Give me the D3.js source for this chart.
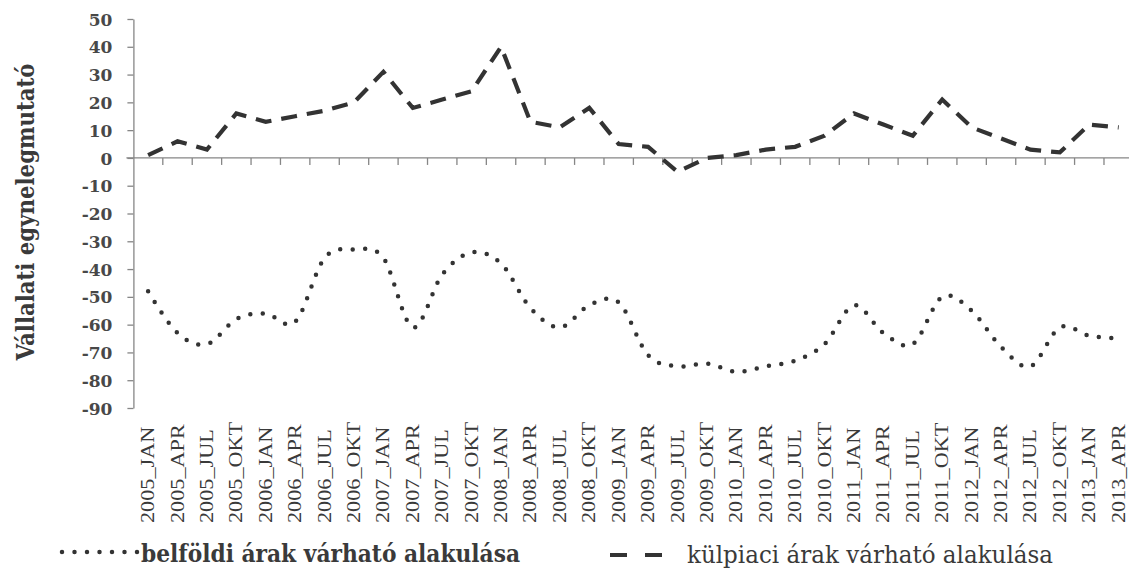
<!DOCTYPE html>
<html>
<head>
<meta charset="utf-8">
<script src="https://cdn.jsdelivr.net/npm/d3@7"></script>
<style>
  html, body { margin: 0; padding: 0; background: #fff; }
  svg { display: block; }
</style>
</head>
<body>
<svg id="chart" width="1129" height="576"></svg>
<script>
// Quarterly survey periods
const categories = [
  "2005_JAN","2005_APR","2005_JUL","2005_OKT",
  "2006_JAN","2006_APR","2006_JUL","2006_OKT",
  "2007_JAN","2007_APR","2007_JUL","2007_OKT",
  "2008_JAN","2008_APR","2008_JUL","2008_OKT",
  "2009_JAN","2009_APR","2009_JUL","2009_OKT",
  "2010_JAN","2010_APR","2010_JUL","2010_OKT",
  "2011_JAN","2011_APR","2011_JUL","2011_OKT",
  "2012_JAN","2012_APR","2012_JUL","2012_OKT",
  "2013_JAN","2013_APR"
];

// Expected domestic price developments (balance indicator)
const belfoldi = [
  -48, -63, -67, -58, -56, -59, -36, -33, -36, -61, -42, -34,
  -38, -54, -61, -53, -52, -71, -75, -74, -77, -75, -73, -67,
  -53, -63, -67, -50, -55, -68, -75, -61, -64, -65
];

// Expected foreign-market price developments (balance indicator)
const kulpiaci = [
  1, 6, 3, 16, 13, 15, 17, 20, 31, 18, 21, 24,
  40, 13, 11, 18, 5, 4, -5, 0, 1, 3, 4, 8,
  16, 12, 8, 21, 11, 7, 3, 2, 12, 11
];

const yTicks = [50, 40, 30, 20, 10, 0, -10, -20, -30, -40, -50, -60, -70, -80, -90];

const seriesNames = ["belföldi árak várható alakulása", "külpiaci árak várható alakulása"];
const yTitle = "Vállalati egynelegmutató";

const svg = d3.select("#chart");
const axisColor = "#868686";
const inkColor = "#333333";
const textColor = "#3a3a3a";

const plot = { left: 133.4, right: 1133.4, top: 19, bottom: 408 };

const x = d3.scaleBand().domain(categories).range([plot.left, plot.right]).padding(0);
const y = d3.scaleLinear().domain([-90, 50]).range([plot.bottom, plot.top]);
const cx = c => x(c) + x.bandwidth() / 2;

// Stretch a text element along its own direction to a given length
function fitLength(sel, len) {
  sel.attr("textLength", len).attr("lengthAdjust", "spacingAndGlyphs");
}

// Y axis
const yAxis = svg.append("g")
  .attr("transform", `translate(${plot.left},0)`)
  .call(d3.axisLeft(y).tickValues(yTicks).tickSize(6).tickSizeOuter(0).tickPadding(15)
    .tickFormat(d => String(d)));
yAxis.select(".domain").attr("stroke", axisColor).attr("stroke-width", 1.3);
yAxis.selectAll(".tick line").attr("stroke", axisColor).attr("stroke-width", 1.3);
yAxis.selectAll(".tick text")
  .attr("fill", "#484848")
  .attr("dy", "0.36em")
  .style("font-family", "'DejaVu Serif', serif")
  .style("font-weight", "bold")
  .style("font-size", "17px");

// Horizontal axis along zero
const x0 = y(0);
const xAxis = svg.append("g");
xAxis.append("line")
  .attr("x1", plot.left - 7).attr("x2", plot.right)
  .attr("y1", x0).attr("y2", x0)
  .attr("stroke", axisColor).attr("stroke-width", 1.3);
const bounds = categories.map(c => x(c)).concat([x(categories[categories.length - 1]) + x.bandwidth()]).slice(1);
xAxis.selectAll("line.tick")
  .data(bounds)
  .join("line")
  .attr("class", "tick")
  .attr("x1", d => d).attr("x2", d => d)
  .attr("y1", x0).attr("y2", x0 + 7)
  .attr("stroke", axisColor).attr("stroke-width", 1.3);

// Category labels, rotated, placed beneath the plot
const labelFont = 18.5;
const labelStretch = 1.2;
xAxis.selectAll("text.cat")
  .data(categories)
  .join("text")
  .attr("class", "cat")
  .attr("transform", d => `translate(${cx(d)},523) rotate(-90)`)
  .attr("text-anchor", "start")
  .attr("dominant-baseline", "central")
  .attr("fill", textColor)
  .style("font-family", "'Liberation Serif', serif")
  .style("font-size", labelFont + "px")
  .text(d => d)
  .each(function () {
    const w = this.getComputedTextLength();
    fitLength(d3.select(this), w * labelStretch);
  });

// Y axis title
svg.append("text")
  .attr("transform", `translate(34,212) rotate(-90)`)
  .attr("text-anchor", "middle")
  .attr("fill", textColor)
  .style("font-family", "'DejaVu Serif', serif")
  .style("font-weight", "bold")
  .style("font-size", "25px")
  .text(yTitle)
  .call(fitLength, 297);

// Series lines
const dotted = d3.line()
  .x((d, i) => cx(categories[i]))
  .y(d => y(d))
  .curve(d3.curveCardinal.tension(0));

const dashed = d3.line()
  .x((d, i) => cx(categories[i]))
  .y(d => y(d));

svg.append("path")
  .datum(kulpiaci)
  .attr("d", dashed)
  .attr("fill", "none")
  .attr("stroke", inkColor)
  .attr("stroke-width", 4.2)
  .attr("stroke-dasharray", "16,10");

svg.append("path")
  .datum(belfoldi)
  .attr("d", dotted)
  .attr("fill", "none")
  .attr("stroke", inkColor)
  .attr("stroke-width", 4.5)
  .attr("stroke-linecap", "round")
  .attr("stroke-dasharray", "0,12.5");

// Legend
const legend = svg.append("g");
legend.append("line")
  .attr("x1", 62).attr("x2", 138)
  .attr("y1", 552).attr("y2", 552)
  .attr("stroke", inkColor)
  .attr("stroke-width", 4.5)
  .attr("stroke-linecap", "round")
  .attr("stroke-dasharray", "0,12.5");
legend.append("text")
  .attr("x", 141).attr("y", 562)
  .attr("fill", textColor)
  .style("font-family", "'DejaVu Serif', serif")
  .style("font-weight", "bold")
  .style("font-size", "25px")
  .text(seriesNames[0])
  .call(fitLength, 379);

legend.append("line")
  .attr("x1", 610).attr("x2", 663)
  .attr("y1", 555).attr("y2", 555)
  .attr("stroke", inkColor)
  .attr("stroke-width", 4.2)
  .attr("stroke-dasharray", "17,18");
legend.append("text")
  .attr("x", 687).attr("y", 563)
  .attr("fill", textColor)
  .style("font-family", "'DejaVu Serif', serif")
  .style("font-size", "25px")
  .text(seriesNames[1])
  .call(fitLength, 366);
</script>
</body>
</html>
